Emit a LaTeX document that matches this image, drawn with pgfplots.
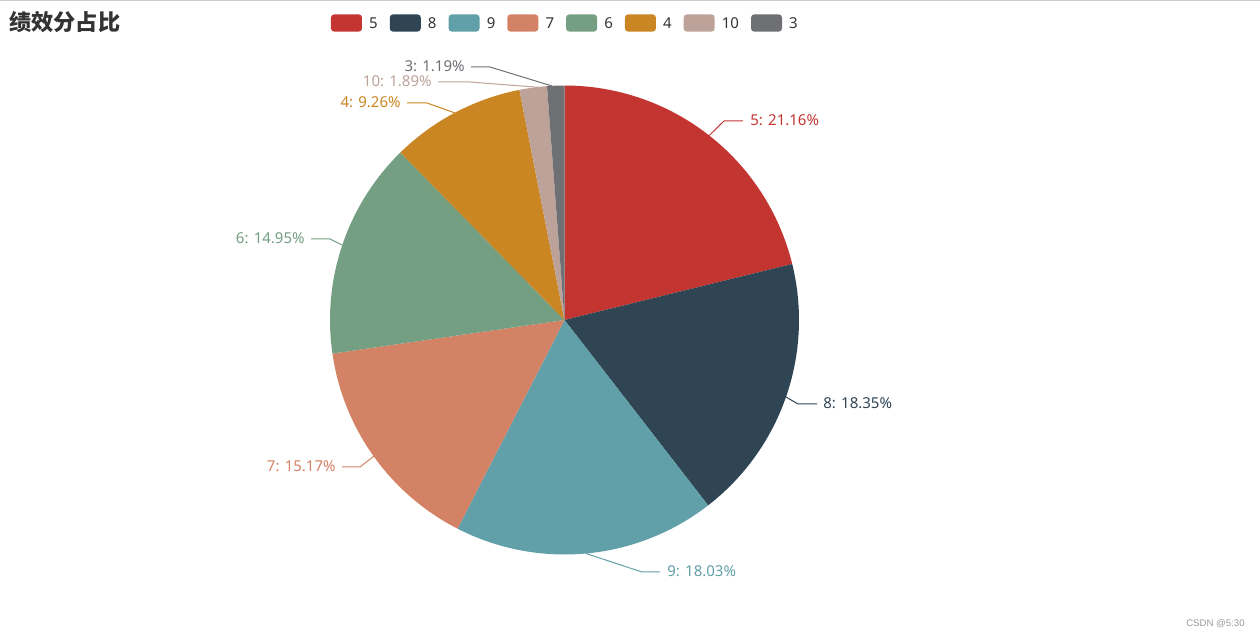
\documentclass[border=0pt]{standalone}
\usepackage{fontspec}
\setmainfont{Noto Sans}
\newfontfamily\cjk{Noto Sans CJK SC}
\newfontfamily\arialfont{Liberation Sans}
\usepackage{pgfplots}
\pgfplotsset{compat=1.18}
\definecolor{c5}{HTML}{C23531}
\definecolor{c8}{HTML}{2F4554}
\definecolor{c9}{HTML}{61A0A8}
\definecolor{c7}{HTML}{D48265}
\definecolor{c6}{HTML}{749F83}
\definecolor{c4}{HTML}{CA8622}
\definecolor{c10}{HTML}{BDA29A}
\definecolor{c3}{HTML}{6E7074}
\definecolor{txt}{HTML}{333333}
\begin{document}
\begin{tikzpicture}
% shares (percent), in legend order
\pgfmathsetmacro\aA{90}
\pgfmathsetmacro\aB{\aA-3.6*21.16}% 5
\pgfmathsetmacro\aC{\aB-3.6*18.35}% 8
\pgfmathsetmacro\aD{\aC-3.6*18.03}% 9
\pgfmathsetmacro\aE{\aD-3.6*15.17}% 7
\pgfmathsetmacro\aF{\aE-3.6*14.95}% 6
\pgfmathsetmacro\aG{\aF-3.6*9.26}% 4
\pgfmathsetmacro\aH{\aG-3.6*1.89}% 10
\pgfmathsetmacro\aI{\aH-3.6*1.19}% 3
\def\cx{564.5}\def\cy{318}\def\R{234.5}
\begin{axis}[
  at={(0,0)}, anchor=origin,
  width=630pt, height=319pt, scale only axis,
  xmin=0, xmax=1260, ymin=0, ymax=638,
  hide axis, clip=false,
  legend columns=8,
  legend image code/.code={\fill[#1, rounded corners=1.6pt] (0pt,-4.3pt) rectangle (15.5pt,4.3pt);},
  legend style={
    at={(331/1260,615/638)}, anchor=west,
    draw=none, fill=none, inner sep=0pt, outer sep=0pt,
    nodes={inner sep=0pt, text depth=0pt, text=txt, font=\fontsize{7.5}{9}\selectfont},
    /tikz/every odd column/.append style={column sep=3.6pt},
    /tikz/every even column/.append style={column sep=6pt},
  },
]
\addplot[fill=c5, draw=none, domain=\aB:\aA, samples=80, variable=\t] ({\cx+\R*cos(\t)}, {\cy+\R*sin(\t)}) -- (\cx,\cy) -- cycle;
\addlegendentry{5}
\addplot[fill=c8, draw=none, domain=\aC:\aB, samples=80, variable=\t] ({\cx+\R*cos(\t)}, {\cy+\R*sin(\t)}) -- (\cx,\cy) -- cycle;
\addlegendentry{8}
\addplot[fill=c9, draw=none, domain=\aD:\aC, samples=80, variable=\t] ({\cx+\R*cos(\t)}, {\cy+\R*sin(\t)}) -- (\cx,\cy) -- cycle;
\addlegendentry{9}
\addplot[fill=c7, draw=none, domain=\aE:\aD, samples=80, variable=\t] ({\cx+\R*cos(\t)}, {\cy+\R*sin(\t)}) -- (\cx,\cy) -- cycle;
\addlegendentry{7}
\addplot[fill=c6, draw=none, domain=\aF:\aE, samples=80, variable=\t] ({\cx+\R*cos(\t)}, {\cy+\R*sin(\t)}) -- (\cx,\cy) -- cycle;
\addlegendentry{6}
\addplot[fill=c4, draw=none, domain=\aG:\aF, samples=60, variable=\t] ({\cx+\R*cos(\t)}, {\cy+\R*sin(\t)}) -- (\cx,\cy) -- cycle;
\addlegendentry{4}
\addplot[fill=c10, draw=none, domain=\aH:\aG, samples=20, variable=\t] ({\cx+\R*cos(\t)}, {\cy+\R*sin(\t)}) -- (\cx,\cy) -- cycle;
\addlegendentry{10}
\addplot[fill=c3, draw=none, domain=\aI:\aH, samples=20, variable=\t] ({\cx+\R*cos(\t)}, {\cy+\R*sin(\t)}) -- (\cx,\cy) -- cycle;
\addlegendentry{3}

% leader lines
\addplot[c5, line width=0.5pt, forget plot] coordinates {(709.2,502.5) (724,517) (743,517)};
\addplot[c8, line width=0.5pt, forget plot] coordinates {(786,241) (798,234) (817,234)};
\addplot[c9, line width=0.5pt, forget plot] coordinates {(586,84.5) (642,66) (660,66)};
\addplot[c7, line width=0.5pt, forget plot] coordinates {(374,182) (360,171) (342,171)};
\addplot[c6, line width=0.5pt, forget plot] coordinates {(342,393) (330,399) (311,399)};
\addplot[c4, line width=0.5pt, forget plot] coordinates {(455,525) (427,535) (407,535)};
\addplot[c10, line width=0.5pt, forget plot] coordinates {(547,550) (470,556) (438,556)};
\addplot[c3, line width=0.5pt, forget plot] coordinates {(552,552) (490,571) (471,571)};

\begin{scope}[every node/.style={font=\fontsize{7.5}{9}\selectfont, inner sep=0pt}]
\node[anchor=west, text=c5] at (750,518) {5: 21.16\%};
\node[anchor=west, text=c8] at (823,235) {8: 18.35\%};
\node[anchor=west, text=c9] at (667,67) {9: 18.03\%};
\node[anchor=east, text=c7] at (336,172) {7: 15.17\%};
\node[anchor=east, text=c6] at (305,400) {6: 14.95\%};
\node[anchor=east, text=c4] at (401,536) {4: 9.26\%};
\node[anchor=east, text=c10] at (432,557) {10: 1.89\%};
\node[anchor=east, text=c3] at (465,572) {3: 1.19\%};
\end{scope}

\node[anchor=west, inner sep=0pt, text=txt, font=\cjk\bfseries\fontsize{11.1}{13}\selectfont] at (9,616) {绩效分占比};
\node[anchor=east, inner sep=0pt, text=black!40, font=\arialfont\fontsize{4.8}{6}\selectfont] at (1245,14) {CSDN @5:30};
\draw[black!20, line width=1pt] (0,637.5) -- (1260,637.5);
\end{axis}
\pgfresetboundingbox
\path (0,0) rectangle (630pt,319pt);
\end{tikzpicture}
\end{document}
